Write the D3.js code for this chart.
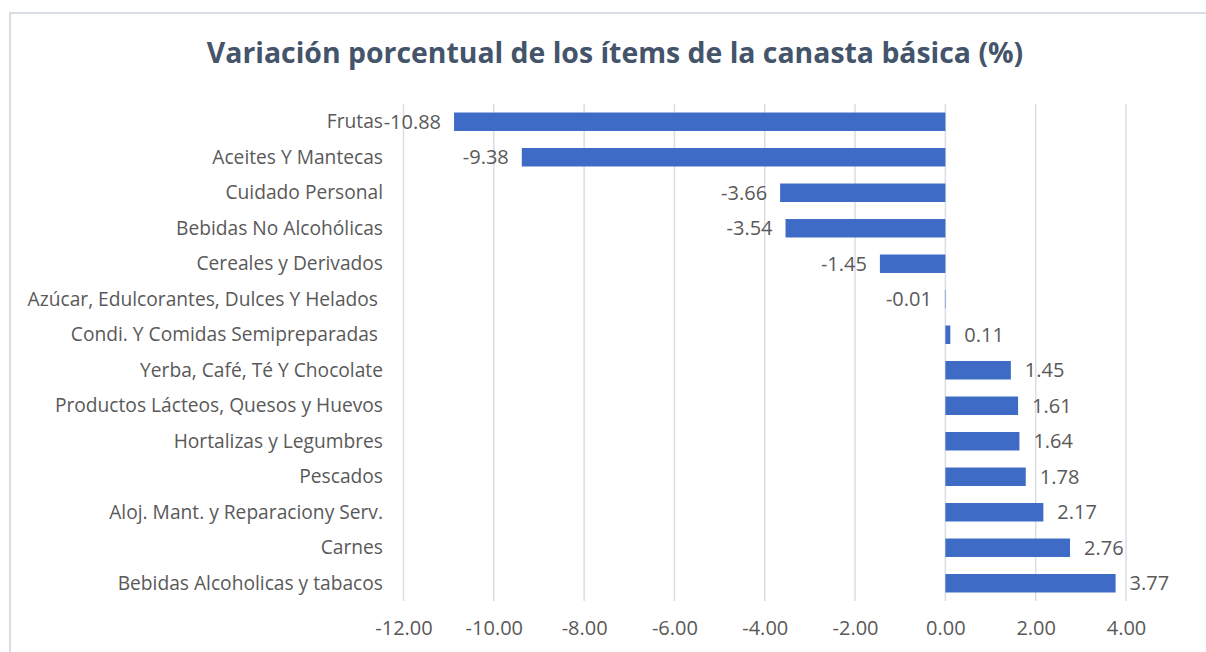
<!DOCTYPE html>
<html><head><meta charset="utf-8">
<script src="https://cdn.jsdelivr.net/npm/d3@7"></script>
<style>
body{margin:0;background:#fff;}
svg{display:block;font-family:"Open Sans",Lato,sans-serif;}
</style></head>
<body>
<svg id="chart" width="1206" height="652"></svg>
<script>
const title = "Variación porcentual de los ítems de la canasta básica (%)";
const categories = [
  "Frutas",
  "Aceites Y Mantecas",
  "Cuidado Personal",
  "Bebidas No Alcohólicas",
  "Cereales y Derivados",
  "Azúcar, Edulcorantes, Dulces Y Helados ",
  "Condi. Y Comidas Semipreparadas ",
  "Yerba, Café, Té Y Chocolate",
  "Productos Lácteos, Quesos y Huevos",
  "Hortalizas y Legumbres",
  "Pescados",
  "Aloj. Mant. y Reparaciony Serv.",
  "Carnes",
  "Bebidas Alcoholicas y tabacos"
];
const values = [-10.88, -9.38, -3.66, -3.54, -1.45, -0.01, 0.11, 1.45, 1.61, 1.64, 1.78, 2.17, 2.76, 3.77];
const tickValues = [-12, -10, -8, -6, -4, -2, 0, 2, 4];

const svg = d3.select("#chart");
const W = 1206, H = 652;

svg.append("rect").attr("x", 10).attr("y", 13).attr("width", W).attr("height", H)
  .attr("fill", "#fff").attr("stroke", "#D9DEE6").attr("stroke-width", 2);

const x = d3.scaleLinear().domain([-12, 4]).range([403.5, 1126]);
const y = d3.scaleBand().domain(categories).range([104, 601]).paddingInner(0.48).paddingOuter(0.24);

const fmt = d => d3.format(".2f")(d).replace("\u2212", "-");

svg.append("text").attr("x", 615).attr("y", 63).attr("text-anchor", "middle")
  .attr("font-size", 28.4).attr("font-weight", "bold").attr("fill", "#44546A").text(title);

svg.append("g").selectAll("line").data(tickValues).join("line")
  .attr("x1", d => x(d)).attr("x2", d => x(d)).attr("y1", 104).attr("y2", 601)
  .attr("stroke", "#D9DDE4").attr("stroke-width", 1.5);

const xAxis = d3.axisBottom(x).tickValues(tickValues).tickFormat(fmt).tickSize(0).tickPadding(0);
const gx = svg.append("g").attr("transform", "translate(0,621)").call(xAxis);
gx.select(".domain").remove();
gx.selectAll("text").attr("font-size", 20).attr("fill", "#595959").attr("font-family", "'Open Sans',Lato,sans-serif");

svg.append("g").selectAll("rect").data(values).join("rect")
  .attr("x", d => x(Math.min(0, d)))
  .attr("width", d => Math.abs(x(d) - x(0)))
  .attr("y", (d, i) => y(categories[i]))
  .attr("height", y.bandwidth())
  .attr("fill", "#3D6BC5");

svg.append("g").selectAll("text").data(categories).join("text")
  .attr("x", 383).attr("y", d => y(d) + y.bandwidth() / 2)
  .attr("dy", "0.35em").attr("text-anchor", "end")
  .attr("font-size", 19.2).attr("fill", "#595959")
  .style("white-space", "pre").text(d => d);

svg.append("g").selectAll("text").data(values).join("text")
  .attr("x", d => d < 0 ? x(d) - 13 : x(d) + 14)
  .attr("y", (d, i) => y(categories[i]) + y.bandwidth() / 2)
  .attr("dy", "0.35em").attr("text-anchor", d => d < 0 ? "end" : "start")
  .attr("font-size", 20).attr("fill", "#595959")
  .text(d => fmt(d));
</script>
</body></html>
